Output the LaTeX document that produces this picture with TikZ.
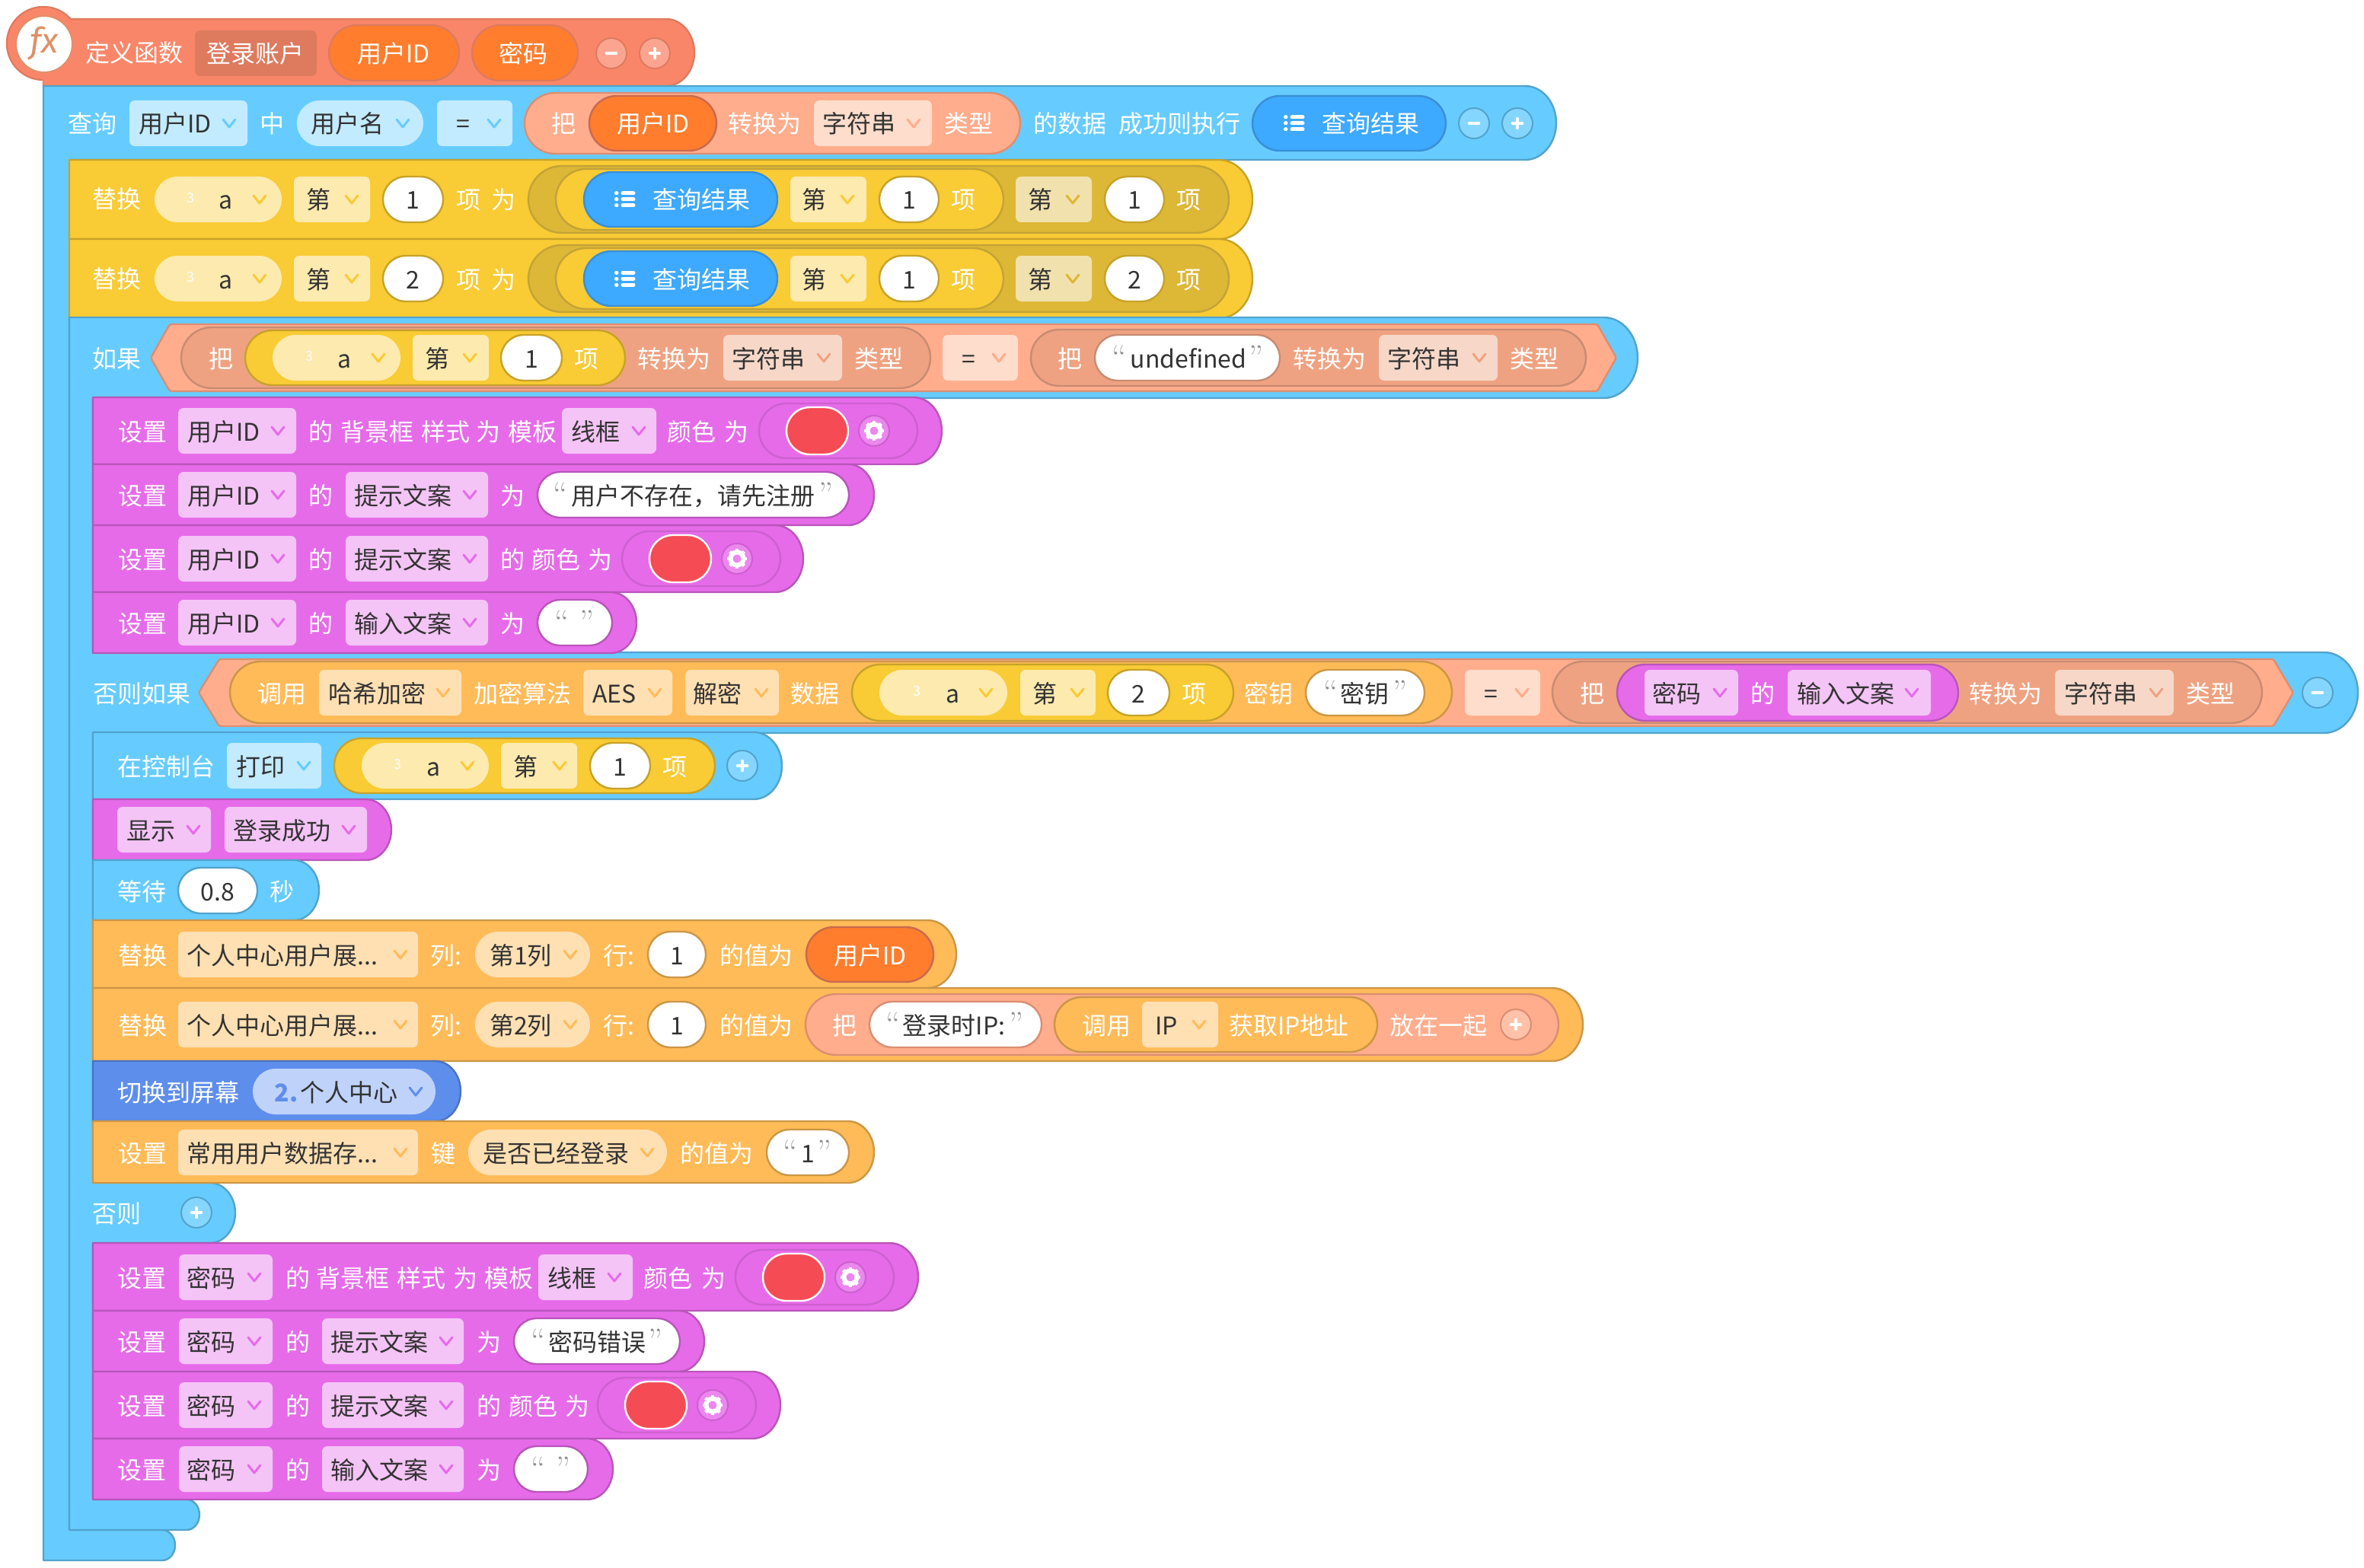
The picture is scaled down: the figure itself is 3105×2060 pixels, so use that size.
\documentclass[tikz,border=0pt]{standalone}
\usepackage{fontspec}
\newfontfamily\cjk{Noto Sans CJK SC}
\newfontfamily\fxfont{Fira Sans}
\definecolor{txt}{HTML}{333333}
\definecolor{blu}{HTML}{66CCFF}\definecolor{bluS}{HTML}{52A3CC}\definecolor{bluD}{HTML}{C2EBFF}\definecolor{bluB}{HTML}{85D6FF}
\definecolor{yel}{HTML}{F9CB34}\definecolor{yelS}{HTML}{C7A22A}\definecolor{yelD}{HTML}{FDEAAE}
\definecolor{ydk}{HTML}{DDB736}\definecolor{ydkS}{HTML}{C4A336}\definecolor{ydkD}{HTML}{F1E1AC}
\definecolor{org}{HTML}{FFBB58}\definecolor{orgS}{HTML}{CC9646}\definecolor{orgD}{HTML}{FFE0B3}
\definecolor{pnk}{HTML}{E66BE9}\definecolor{pnkS}{HTML}{B855BA}\definecolor{pnkD}{HTML}{F4C4F6}\definecolor{pnkB}{HTML}{EB87EE}\definecolor{pnkT}{HTML}{CC60CF}
\definecolor{sal}{HTML}{FFAD8C}\definecolor{salS}{HTML}{DB8E72}\definecolor{salD}{HTML}{FFDDCC}\definecolor{salB}{HTML}{FFC2A9}
\definecolor{sdk}{HTML}{EFA281}\definecolor{sdkS}{HTML}{C78B73}\definecolor{sdkD}{HTML}{F7D8C8}
\definecolor{fun}{HTML}{FA8669}\definecolor{funS}{HTML}{DE7A5E}\definecolor{funB}{HTML}{FBA590}\definecolor{funI}{HTML}{DF9069}
\definecolor{vr}{HTML}{FF7D2D}\definecolor{vrS}{HTML}{C96A4E}
\definecolor{res}{HTML}{3DA9FF}\definecolor{resS}{HTML}{3A8FD6}
\definecolor{scr}{HTML}{5E8EEC}\definecolor{scrS}{HTML}{4B72BD}\definecolor{scrD}{HTML}{BFD2F9}
\definecolor{rd}{HTML}{F54B54}\definecolor{qt}{HTML}{909090}
\tikzset{
  lbl/.style={inner sep=0pt,font=\cjk\fontsize{32}{32}\selectfont,text height=28pt,text depth=4pt},
  wt/.style={lbl,text=white},
  dk/.style={lbl,text=txt},
  sm/.style={inner sep=0pt,font=\cjk\fontsize{18}{18}\selectfont,text=white},
  qm/.style={inner sep=0pt,font=\rmfamily\fontsize{44}{44}\selectfont,text=qt,text height=28pt,text depth=4pt},
  shp/.style={line width=2.4pt,line join=round},
  sign/.style={white,line width=4.6pt,line cap=round},
}
\newcommand\W[3]{\node[wt] at (#1,#2) {#3};}
\newcommand\K[3]{\node[dk] at (#1,#2) {#3};}
% full pill from x1 y1 x2 y2 fill stroke
\newcommand\pill[6]{%
  \pgfmathsetmacro\xa{#1}\pgfmathsetmacro\ya{#2}\pgfmathsetmacro\xb{#3}\pgfmathsetmacro\yb{#4}%
  \pgfmathsetmacro\ry{(\yb-\ya)/2}\pgfmathsetmacro\rx{min(\ry,(\xb-\xa)/2)}%
  \pgfmathsetmacro\kx{0.5523*\rx}\pgfmathsetmacro\ky{0.5523*\ry}\pgfmathsetmacro\ym{(\ya+\yb)/2}%
  \draw[shp,fill=#5,draw=#6] (\xa+\rx,\ya) -- (\xb-\rx,\ya)
    .. controls (\xb-\rx+\kx,\ya) and (\xb,\ym-\ky) .. (\xb,\ym)
    .. controls (\xb,\ym+\ky) and (\xb-\rx+\kx,\yb) .. (\xb-\rx,\yb)
    -- (\xa+\rx,\yb)
    .. controls (\xa+\rx-\kx,\yb) and (\xa,\ym+\ky) .. (\xa,\ym)
    .. controls (\xa,\ym-\ky) and (\xa+\rx-\kx,\ya) .. (\xa+\rx,\ya) -- cycle;}
% right cap inside a path
\newcommand\capp[3]{.. controls ({#1-0.189*((#3)-(#2))},#2) and (#1,{((#2)+(#3))/2-0.276*((#3)-(#2))}) .. (#1,{((#2)+(#3))/2}) .. controls (#1,{((#2)+(#3))/2+0.276*((#3)-(#2))}) and ({#1-0.189*((#3)-(#2))},#3) .. ({#1-0.42*((#3)-(#2))},#3)}
% stacked block
\newcommand\blk[6]{\draw[shp,fill=#5,draw=#6] (#1,#2) -- ({#3-0.42*((#4)-(#2))},#2) \capp{#3}{#2}{#4} -- (#1,#4) -- cycle;}
\newcommand\chev[3]{\draw[#3,line width=3pt,line cap=round,line join=round] (#1-8,#2-5) -- (#1,#2+5) -- (#1+8,#2-5);}
% fill chev cy x1 x2 tx cx text
\newcommand\D[8]{\fill[#1,rounded corners=7pt] (#4,#3-30) rectangle (#5,#3+30); \K{#6}{#3+1}{#8}\chev{#7}{#3}{#2}}
\newcommand\R[8]{\pill{#4}{#3-30}{#5}{#3+30}{#1}{none}\K{#6}{#3+1}{#8}\chev{#7}{#3}{#2}}
\newcommand\bD{\D{bluD}{blu}}\newcommand\bR{\R{bluD}{blu}}
\newcommand\yD{\D{yelD}{yel}}\newcommand\dD{\D{ydkD}{ydk}}
\newcommand\oD{\D{orgD}{org}}\newcommand\oR{\R{orgD}{org}}
\newcommand\pD{\D{pnkD}{pnk}}
\newcommand\sD{\D{salD}{sal}}\newcommand\kD{\D{sdkD}{sdk}}
% variable "a" pill: cy x1 x2 x3 xa xc
\newcommand\avar[6]{\pill{#2}{#1-30}{#3}{#1+30}{yelD}{none}\node[sm] at (#4,#1-2) {3};\K{#5}{#1+1}{a}\chev{#6}{#1}{yel}}
\newcommand\num[5]{\pill{#2}{#1-30}{#3}{#1+30}{white}{#4}\K{#2/2+#3/2}{#1+1}{#5}}
\newcommand\strp[8]{\pill{#2}{#1-30}{#3}{#1+30}{white}{#4}\node[qm] at (#5,#1+2) {“};\node[qm] at (#6,#1+2) {”};\K{#7}{#1+1}{#8}}
\newcommand\btn[6]{\draw[line width=2pt,fill=#4,draw=#5] (#1,#2) circle[radius=20];
  \ifnum#3=0 \draw[sign] (#1-6,#2) -- (#1+6,#2);\else \draw[sign] (#1-6,#2) -- (#1+6,#2) (#1,#2-6) -- (#1,#2+6);\fi #6}
\newcommand\lst[2]{\foreach \dy in {-8,0,8}{\draw[white,line width=5pt,line cap=round] (#1-11.5,#2+\dy) -- (#1-11,#2+\dy) (#1-3,#2+\dy) -- (#1+11,#2+\dy);}}
\newcommand\gear[2]{\draw[line width=2pt,fill=pnkB,draw=pnkT] (#1,#2) circle[radius=20];
  \draw[white,line width=6pt] (#1,#2) circle[radius=8.5];
  \begin{scope}[shift={(#1,#2)}]\foreach \g in {0,45,...,315}{\draw[white,line width=4.6pt] (\g:9) -- (\g:13.2);}\end{scope}}
\newcommand\colp[2]{\pill{#1}{#2-36}{#1+208}{#2+36}{pnk}{pnkT}\pill{#1+36}{#2-31}{#1+117}{#2+31}{rd}{white}\gear{#1+151}{#2}}
% yellow replace row
\newcommand\yrow[3]{%
  \blk{91}{#1-52}{1645}{#1+52}{yel}{yelS}
  \W{153}{#1}{替换}\avar{#1}{203}{370}{250}{297}{341}\yD{#1}{386}{486}{418}{462}{第}
  \num{#1}{503}{582}{yelS}{#2}\W{615}{#1+1}{项}\W{661}{#1+1}{为}
  \pill{694}{#1-44}{1614}{#1+44}{ydk}{ydkS}\pill{730}{#1-40}{1318}{#1+40}{yel}{ydkS}
  \pill{767}{#1-36}{1021}{#1+36}{res}{resS}\lst{821}{#1}\W{921}{#1+1}{查询结果}
  \yD{#1}{1038}{1138}{1069}{1113}{第}\num{#1}{1155}{1233}{yelS}{1}\W{1265}{#1+1}{项}
  \dD{#1}{1334}{1434}{1366}{1409}{第}\num{#1}{1451}{1529}{yelS}{#3}\W{1561}{#1+1}{项}}
\begin{document}
\begin{tikzpicture}[x=1pt,y=-1pt]
\useasboundingbox (0,0) rectangle (3105,2060);
% --- define function hat block
\draw[shp,fill=fun,draw=funS] (57,57) circle[radius=48];
\blk{57}{25}{912}{113}{fun}{funS}
\fill[fun] (57,57) circle[radius=46.8];
\fill[fun] (57,60) rectangle (120,111);
\draw[line width=2pt,fill=white,draw=funI] (58,58) circle[radius=37];
\node[inner sep=0pt,text=funI,font=\fxfont\fontsize{46}{46}\selectfont\itshape] at (58,57) {fx};
\W{176}{70}{定义函数}
\fill[funS,rounded corners=7pt] (256,40) rectangle (416,100);
\W{335}{71}{登录账户}
\pill{432}{33}{603}{106}{vr}{funS}\W{517}{71}{用户ID}
\pill{620}{33}{759}{106}{vr}{funS}\W{687}{71}{密码}
\btn{803}{70}{0}{funB}{funS}{}\btn{860}{70}{1}{funB}{funS}{}
% --- outer query C
\draw[shp,fill=blu,draw=bluS] (57,113) -- ({2044-0.42*97},113) \capp{2044}{113}{210} -- (91,210) -- (91,2010) -- ({230-0.42*40},2010) \capp{230}{2010}{2050} -- (57,2050) -- cycle;
\W{121}{163}{查询}\bD{162}{170}{325}{230}{301}{用户ID}\W{357}{163}{中}
\bR{162}{390}{556}{456}{529}{用户名}\bD{162}{574}{673}{608}{649}{=}
\pill{689}{122}{1340}{202}{sal}{salS}\W{740}{163}{把}
\pill{774}{126}{941}{198}{vr}{vrS}\W{858}{163}{用户ID}
\W{1004}{163}{转换为}\sD{162}{1069}{1224}{1128}{1200}{字符串}\W{1272}{163}{类型}
\W{1405}{163}{的数据}\W{1549}{163}{成功则执行}
\pill{1645}{126}{1899}{198}{res}{resS}\lst{1700}{162}\W{1800}{163}{查询结果}
\btn{1936}{162}{0}{bluB}{bluS}{}\btn{1993}{162}{1}{bluB}{bluS}{}
% --- yellow rows
\yrow{262}{1}{1}
\yrow{366}{2}{2}
% --- inner if C
\draw[shp,fill=blu,draw=bluS] (91,417) -- ({2151-0.42*106},417) \capp{2151}{417}{523} -- (122,523) -- (122,857) -- ({3097-0.42*106},857) \capp{3097}{857}{963} -- (122,963) -- (122,1554) -- ({309-0.42*79},1554) \capp{309}{1554}{1633} -- (122,1633) -- (122,1970) -- ({262-0.42*40},1970) \capp{262}{1970}{2010} -- (91,2010) -- cycle;
% if line
\W{153}{471}{如果}
\draw[shp,fill=sal,draw=salS,rounded corners=2pt] (198,470) -- (223,426) -- (2098,426) -- (2123,470) -- (2098,514) -- (223,514) -- cycle;
\pill{238}{430}{1222}{510}{sdk}{sdkS}\W{290}{471}{把}
\pill{322}{434}{821}{506}{yel}{yelS}\avar{470}{358}{526}{406}{453}{497}
\yD{470}{542}{642}{574}{617}{第}\num{470}{658}{738}{yelS}{1}\W{770}{471}{项}
\W{885}{471}{转换为}\kD{470}{950}{1106}{1009}{1082}{字符串}\W{1154}{471}{类型}
\sD{470}{1238}{1337}{1272}{1312}{=}
\pill{1354}{433}{2083}{507}{sdk}{sdkS}\W{1405}{471}{把}
\strp{470}{1438}{1681}{sdkS}{1470}{1650}{1561}{undefined}
\W{1746}{471}{转换为}\kD{470}{1811}{1967}{1870}{1943}{字符串}\W{2015}{471}{类型}
% pink rows user
\blk{122}{522}{1237}{610}{pnk}{pnkS}
\W{187}{567}{设置}\pD{566}{234}{389}{294}{365}{用户ID}
\W{421}{567}{的}\W{495}{567}{背景框}\W{585}{567}{样式}\W{641}{567}{为}\W{699}{567}{模板}
\pD{566}{738}{862}{782}{839}{线框}\W{908}{567}{颜色}\W{967}{567}{为}\colp{997}{566}
\blk{122}{610}{1148}{690}{pnk}{pnkS}
\W{187}{651}{设置}\pD{650}{234}{389}{294}{365}{用户ID}\W{421}{651}{的}
\pD{650}{454}{641}{529}{617}{提示文案}\W{673}{651}{为}
\strp{650}{706}{1115}{pnkS}{736}{1085}{910}{用户不存在，请先注册}
\blk{122}{690}{1055}{778}{pnk}{pnkS}
\W{187}{735}{设置}\pD{734}{234}{389}{294}{365}{用户ID}\W{421}{735}{的}
\pD{734}{454}{641}{529}{617}{提示文案}\W{673}{735}{的}\W{730}{735}{颜色}\W{788}{735}{为}\colp{817}{734}
\blk{122}{778}{836}{858}{pnk}{pnkS}
\W{187}{819}{设置}\pD{818}{234}{389}{294}{365}{用户ID}\W{421}{819}{的}
\pD{818}{454}{641}{529}{617}{输入文案}\W{673}{819}{为}
\pill{706}{788}{804}{848}{white}{pnkS}\node[qm] at (738,820) {“};\node[qm] at (771,820) {”};
% else-if line
\W{186}{911}{否则如果}
\draw[shp,fill=sal,draw=salS,rounded corners=2pt] (261,910) -- (288,866) -- (2986,866) -- (3012,910) -- (2986,954) -- (288,954) -- cycle;
\pill{302}{869}{1907}{950}{org}{orgS}\W{370}{911}{调用}
\oD{910}{419}{606}{495}{582}{哈希加密}\W{686}{911}{加密算法}
\oD{910}{766}{883}{807}{860}{AES}\oD{910}{900}{1023}{942}{1000}{解密}\W{1070}{911}{数据}
\pill{1119}{873}{1620}{947}{yel}{yelS}\avar{910}{1155}{1323}{1204}{1251}{1295}
\yD{910}{1340}{1439}{1372}{1415}{第}\num{910}{1455}{1536}{yelS}{2}\W{1568}{911}{项}
\W{1666}{911}{密钥}\strp{910}{1715}{1871}{orgS}{1748}{1839}{1792}{密钥}
\sD{910}{1924}{2023}{1958}{1999}{=}
\pill{2039}{869}{2971}{950}{sdk}{sdkS}\W{2091}{911}{把}
\pill{2124}{873}{2572}{947}{pnk}{pnkS}\pD{910}{2160}{2283}{2202}{2259}{密码}\W{2315}{911}{的}
\pD{910}{2348}{2536}{2424}{2511}{输入文案}
\W{2634}{911}{转换为}\kD{910}{2699}{2855}{2759}{2832}{字符串}\W{2903}{911}{类型}
\btn{3044}{910}{0}{bluB}{bluS}{}
% console
\blk{122}{962}{1027}{1050}{blu}{bluS}
\W{218}{1007}{在控制台}\bD{1006}{298}{422}{342}{399}{打印}
\pill{439}{970}{939}{1042}{yel}{yelS}\avar{1006}{475}{642}{522}{570}{614}
\yD{1006}{658}{758}{690}{735}{第}\num{1006}{775}{854}{yelS}{1}\W{886}{1007}{项}
\btn{975}{1006}{1}{bluB}{bluS}{}
% show
\blk{122}{1050}{514}{1130}{pnk}{pnkS}
\pD{1090}{154}{277}{198}{254}{显示}\pD{1090}{295}{482}{370}{458}{登录成功}
% wait
\blk{122}{1130}{419}{1209}{blu}{bluS}
\W{186}{1171}{等待}\num{1170}{234}{338}{bluS}{0.8}\W{370}{1171}{秒}
% replace table 1
\blk{122}{1209}{1256}{1298}{org}{orgS}
\W{187}{1255}{替换}\oD{1254}{234}{549}{371}{526}{个人中心用户展...}\W{586}{1255}{列:}
\oR{1254}{624}{775}{684}{749}{第1列}\W{813}{1255}{行:}\num{1254}{851}{927}{orgS}{1}\W{993}{1255}{的值为}
\pill{1059}{1218}{1226}{1290}{vr}{vrS}\W{1143}{1255}{用户ID}
% replace table 2
\blk{122}{1298}{2079}{1394}{org}{orgS}
\W{187}{1347}{替换}\oD{1346}{234}{549}{371}{526}{个人中心用户展...}\W{586}{1347}{列:}
\oR{1346}{624}{775}{684}{749}{第2列}\W{813}{1347}{行:}\num{1346}{851}{927}{orgS}{1}\W{993}{1347}{的值为}
\pill{1058}{1306}{2047}{1386}{sal}{salS}\W{1109}{1347}{把}
\strp{1346}{1142}{1368}{salS}{1173}{1335}{1253}{登录时IP:}
\pill{1385}{1310}{1809}{1382}{org}{orgS}\W{1453}{1347}{调用}
\oD{1346}{1500}{1600}{1532}{1575}{IP}\W{1693}{1347}{获取IP地址}\W{1889}{1347}{放在一起}
\btn{1991}{1346}{1}{salB}{salS}{}
% screen
\blk{122}{1394}{605}{1473}{scr}{scrS}
\W{234}{1435}{切换到屏幕}\pill{332}{1404}{572}{1464}{scrD}{none}
\node[lbl,text=scr] at (376,1435) {\bfseries 2.};\K{458}{1435}{个人中心}\chev{546}{1434}{scr}
% kv
\blk{122}{1473}{1148}{1554}{org}{orgS}
\W{187}{1515}{设置}\oD{1514}{234}{549}{371}{526}{常用用户数据存...}\W{582}{1515}{键}
\oR{1514}{615}{876}{730}{850}{是否已经登录}\W{941}{1515}{的值为}
\strp{1514}{1007}{1115}{orgS}{1038}{1083}{1061}{1}
% else
\W{153}{1594}{否则}\btn{258}{1593}{1}{bluB}{bluS}{}
% pink rows password
\blk{122}{1633}{1206}{1722}{pnk}{pnkS}
\W{186}{1679}{设置}\pD{1678}{235}{358}{277}{334}{密码}
\W{391}{1679}{的}\W{463}{1679}{背景框}\W{553}{1679}{样式}\W{611}{1679}{为}\W{668}{1679}{模板}
\pD{1678}{707}{831}{751}{807}{线框}\W{877}{1679}{颜色}\W{937}{1679}{为}\colp{966}{1678}
\blk{122}{1722}{925}{1802}{pnk}{pnkS}
\W{186}{1763}{设置}\pD{1762}{235}{358}{277}{334}{密码}\W{391}{1763}{的}
\pD{1762}{423}{609}{498}{586}{提示文案}\W{642}{1763}{为}
\strp{1762}{675}{893}{pnkS}{707}{861}{784}{密码错误}
\blk{122}{1802}{1025}{1890}{pnk}{pnkS}
\W{186}{1847}{设置}\pD{1846}{235}{358}{277}{334}{密码}\W{391}{1847}{的}
\pD{1846}{423}{609}{498}{586}{提示文案}\W{642}{1847}{的}\W{700}{1847}{颜色}\W{758}{1847}{为}\colp{785}{1846}
\blk{122}{1890}{805}{1970}{pnk}{pnkS}
\W{186}{1931}{设置}\pD{1930}{235}{358}{277}{334}{密码}\W{391}{1931}{的}
\pD{1930}{423}{609}{498}{586}{输入文案}\W{642}{1931}{为}
\pill{675}{1900}{772}{1960}{white}{pnkS}\node[qm] at (707,1932) {“};\node[qm] at (740,1932) {”};
\end{tikzpicture}
\end{document}
